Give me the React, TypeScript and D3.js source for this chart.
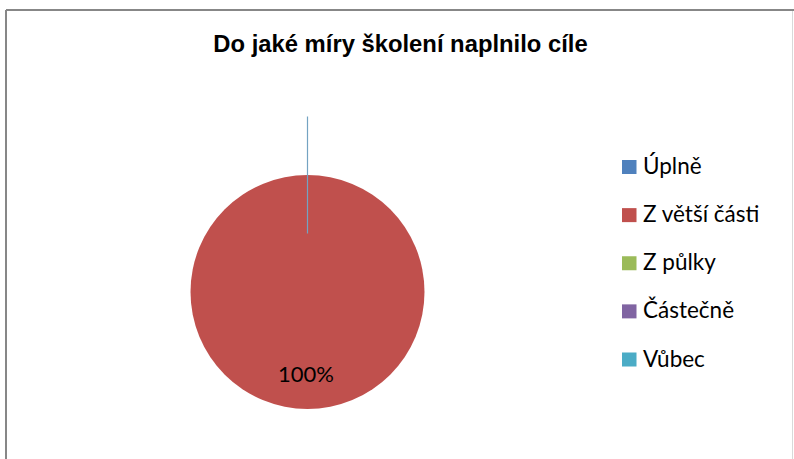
import React from "react";
import * as d3 from "d3";

const categories = ["Úplně", "Z větší části", "Z půlky", "Částečně", "Vůbec"];
const values = [0, 100, 0, 0, 0];
const colors = ["#4F81BD", "#C0504D", "#9BBB59", "#8064A2", "#4BACC6"];
const title = "Do jaké míry školení naplnilo cíle";

export default function App() {
  const W = 794, H = 459;
  const cx = 307.5, cy = 292, r = 117;
  const total = d3.sum(values);
  const pie = d3.pie<number>().sort(null).value((d) => d)(values);
  const arc = d3.arc<d3.PieArcDatum<number>>().innerRadius(0).outerRadius(r);
  const fmt = d3.format(".0%");
  const legendY = d3.scalePoint<string>().domain(categories).range([166.5, 359]);

  return (
    <svg width={W} height={H} style={{ position: "absolute", left: 0, top: 0 }}>
      <rect x={0} y={0} width={W} height={H} fill="#fff" />
      <line x1={6} y1={10} x2={W} y2={10} stroke="#878787" strokeWidth={2} />
      <line x1={6} y1={10} x2={6} y2={H} stroke="#878787" strokeWidth={2} />
      <line x1={792.5} y1={11} x2={792.5} y2={H} stroke="#d9d9d9" strokeWidth={1} />
      <text x={400.5} y={52} textAnchor="middle" fontFamily="Liberation Sans, Arial, sans-serif" fontWeight="bold" fontSize={23.8} fill="#000">
        {title}
      </text>
      <g transform={`translate(${cx},${cy})`}>
        {pie.map((d, i) => (
          <path key={i} d={arc(d) || ""} fill={colors[i]} />
        ))}
        <line x1={0} y1={-r * 0.5} x2={0} y2={-r * 1.5} stroke="#74a3c2" strokeWidth={1.2} />
        {pie.filter((d) => d.value > 0).map((d, i) => (
          <text key={i} x={-1.5} y={89.7} textAnchor="middle" fontFamily="Lato, sans-serif" fontSize={22} fill="#000">
            {fmt(d.value / total)}
          </text>
        ))}
      </g>
      {categories.map((c, i) => (
        <g key={c} transform={`translate(622,${legendY(c)})`}>
          <rect x={0} y={-6.5} width={14.5} height={14} fill={colors[i]} />
          <text x={21} y={7.5} fontFamily="Lato, sans-serif" fontSize={22.5} fill="#000">
            {c}
          </text>
        </g>
      ))}
    </svg>
  );
}
